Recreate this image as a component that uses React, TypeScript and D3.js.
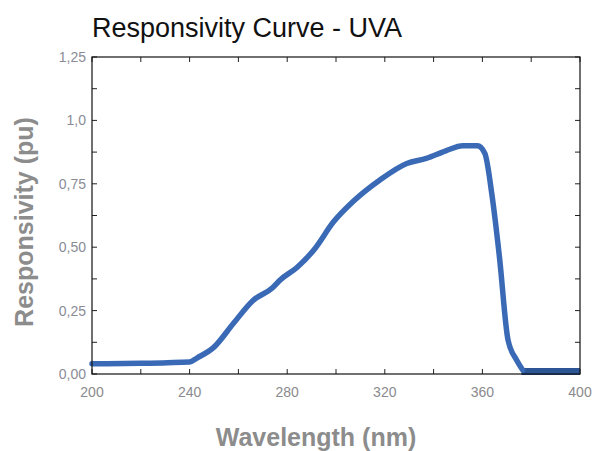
import * as React from 'react';
import * as d3 from 'd3';

// wavelength (nm) vs responsivity (pu)
const wavelength = [200, 220, 240, 243, 250, 258, 266, 274, 277, 284, 291, 299, 307, 318, 329, 337, 345, 352, 358, 361, 364, 367, 370.5, 374, 376.5];
const responsivity = [0.04, 0.042, 0.047, 0.063, 0.106, 0.2, 0.29, 0.34, 0.37, 0.42, 0.49, 0.6, 0.68, 0.765, 0.83, 0.85, 0.88, 0.9, 0.9, 0.87, 0.7, 0.46, 0.134, 0.055, 0.016];
// flat tail near zero
const tailWavelength = [376, 400];
const tailResponsivity = [0.01, 0.01];

const xTicks = [200, 240, 280, 320, 360, 400];
const xMinor = [200, 220, 240, 260, 280, 300, 320, 340, 360, 380, 400];
const yTicks = [0, 0.25, 0.5, 0.75, 1.0, 1.25];
const yTickLabels = ['0,00', '0,25', '0,50', '0,75', '1,0', '1,25'];
const yMinor = [0, 0.125, 0.25, 0.375, 0.5, 0.625, 0.75, 0.875, 1.0, 1.125, 1.25];

const W = 598, H = 451;
const left = 92, right = 580, top = 57, bottom = 374;

const App: React.FC = () => {
    const x = d3.scaleLinear().domain([200, 400]).range([left, right]);
    const y = d3.scaleLinear().domain([0, 1.25]).range([bottom, top]);

    const line = d3.line<[number, number]>().x(d => x(d[0])).y(d => y(d[1])).curve(d3.curveMonotoneX);
    const mainPath = line(wavelength.map((w, i) => [w, responsivity[i]] as [number, number])) || '';
    const tailPath = d3.line<[number, number]>().x(d => x(d[0])).y(d => y(d[1]))(tailWavelength.map((w, i) => [w, tailResponsivity[i]] as [number, number])) || '';

    const font = 'Liberation Sans, Arial, sans-serif';
    const tickLen = 5;

    return (
        <svg width={W} height={H} style={{ position: 'absolute', left: 0, top: 0 }} fontFamily={font}>
            <rect width={W} height={H} fill='#fff' />

            <text x={92} y={37} fontSize={27} fill='#111'>Responsivity Curve - UVA</text>

            {/* ticks on all four sides, pointing in */}
            {xMinor.map((v, i) => (
                <g key={'xt' + i}>
                    <line x1={x(v)} x2={x(v)} y1={bottom} y2={bottom - tickLen} stroke='#222' />
                    <line x1={x(v)} x2={x(v)} y1={top} y2={top + tickLen} stroke='#222' />
                </g>
            ))}
            {yMinor.map((v, i) => (
                <g key={'yt' + i}>
                    <line x1={left} x2={left + tickLen} y1={y(v)} y2={y(v)} stroke='#222' />
                    <line x1={right} x2={right - tickLen} y1={y(v)} y2={y(v)} stroke='#222' />
                </g>
            ))}

            <path d={tailPath} fill='none' stroke='#2c5596' strokeWidth={7} />
            <path d={mainPath} fill='none' stroke='#3a6ab5' strokeWidth={5.5} strokeLinejoin='round' strokeLinecap='round' />

            <rect x={left} y={top} width={right - left} height={bottom - top} fill='none' stroke='#111' strokeWidth={1.2} />

            {xTicks.map((v, i) => (
                <text key={'xl' + i} x={x(v)} y={397} fontSize={14} fill='#8a8a8e' textAnchor='middle'>{v}</text>
            ))}
            {yTicks.map((v, i) => (
                <text key={'yl' + i} x={86} y={y(v) + 5} fontSize={14} fill='#8a8c96' textAnchor='end'>{yTickLabels[i]}</text>
            ))}

            <text x={316} y={446} fontSize={25} fontWeight='bold' fill='#8c8c8c' textAnchor='middle'>Wavelength (nm)</text>
            <text transform={`translate(33,222) rotate(-90)`} fontSize={25} fontWeight='bold' fill='#8c8c8c' textAnchor='middle'>Responsivity (pu)</text>
        </svg>
    );
};

export default App;
